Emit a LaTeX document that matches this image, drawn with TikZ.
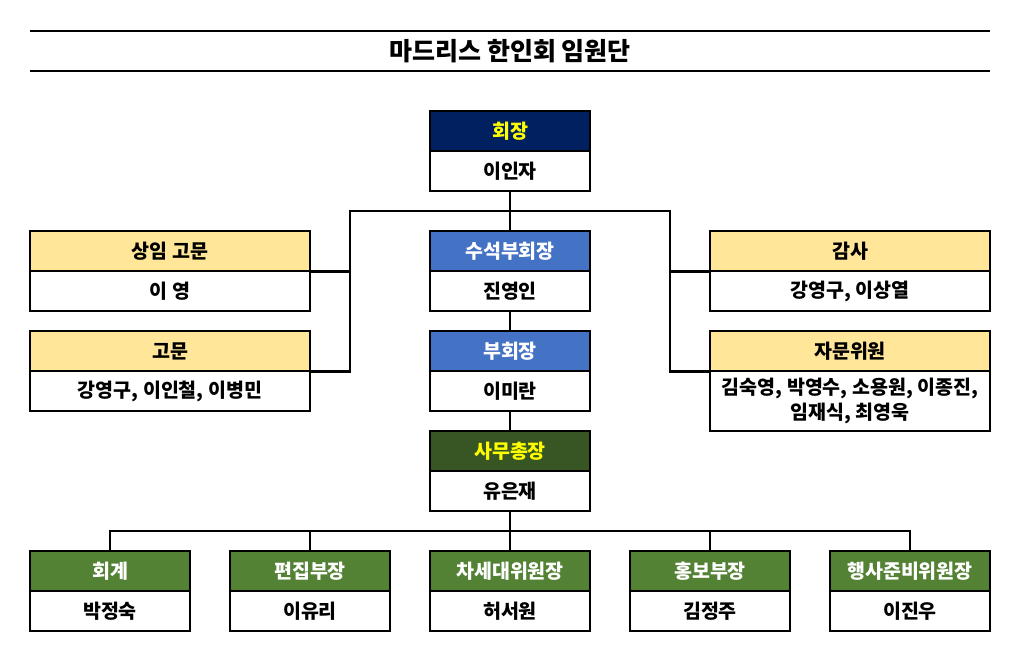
\documentclass[tikz,border=0pt]{standalone}
\usepackage{fontspec}
\setmainfont{Noto Sans CJK KR}
\usetikzlibrary{positioning}
\definecolor{navyhd}{HTML}{002060}
\definecolor{bluehd}{HTML}{4472C4}
\definecolor{darkhd}{HTML}{375623}
\definecolor{greenhd}{HTML}{548235}
\definecolor{goldhd}{HTML}{FFE699}
\definecolor{yellowtx}{HTML}{FFFF00}

\begin{document}
\begin{tikzpicture}[x=1pt, y=-1pt,
  font=\fontsize{19.5}{25}\selectfont\bfseries,
  hd/.style={draw, minimum width=160pt, minimum height=40pt, inner sep=0pt, line width=1.2pt, align=center},
  bd/.style={hd, fill=white},
  wide/.style={minimum width=280pt},
  link/.style={line width=2.4pt},
  rulebar/.style={line width=2.4pt}]
  \useasboundingbox (0,0) rectangle (1025,647);
  % title
  \draw[rulebar] (30,31) -- (990,31);
  \node[font=\fontsize{25}{30}\selectfont\bfseries] (title) at (510,51) {마드리스 한인회 임원단};
  \draw[rulebar] (30,71) -- (990,71);
  % centre column
  \node[hd, fill=navyhd, text=yellowtx] (pres-h) at (510,131) {회장};
  \node[bd] (pres-b) at (510,171) {이인자};
  \node[hd, fill=bluehd, text=white] (svp-h) at (510,251) {수석부회장};
  \node[bd] (svp-b) at (510,291) {진영인};
  \node[hd, fill=bluehd, text=white] (vp-h) at (510,351) {부회장};
  \node[bd] (vp-b) at (510,391) {이미란};
  \node[hd, fill=darkhd, text=yellowtx] (sg-h) at (510,451) {사무총장};
  \node[bd] (sg-b) at (510,491) {유은재};
  % advisers (left)
  \node[hd, wide, fill=goldhd] (adv1-h) at (170,251) {상임 고문};
  \node[bd, wide] (adv1-b) at (170,291) {이 영};
  \node[hd, wide, fill=goldhd] (adv2-h) at (170,351) {고문};
  \node[bd, wide] (adv2-b) at (170,391) {강영구, 이인철, 이병민};
  % audit and council (right)
  \node[hd, wide, fill=goldhd] (aud-h) at (850,251) {감사};
  \node[bd, wide] (aud-b) at (850,291) {강영구, 이상열};
  \node[hd, wide, fill=goldhd] (cnl-h) at (850,351) {자문위원};
  \node[bd, wide, minimum height=60pt] (cnl-b) at (850,401) {김숙영, 박영수, 소용원, 이종진,\\임재식, 최영욱};
  % departments
  \node[hd, fill=greenhd, text=white] (d1-h) at (110,571) {회계};
  \node[bd] (d1-b) at (110,611) {박정숙};
  \node[hd, fill=greenhd, text=white] (d2-h) at (310,571) {편집부장};
  \node[bd] (d2-b) at (310,611) {이유리};
  \node[hd, fill=greenhd, text=white] (d3-h) at (510,571) {차세대위원장};
  \node[bd] (d3-b) at (510,611) {허서원};
  \node[hd, fill=greenhd, text=white] (d4-h) at (710,571) {홍보부장};
  \node[bd] (d4-b) at (710,611) {김정주};
  \node[hd, fill=greenhd, text=white] (d5-h) at (910,571) {행사준비위원장};
  \node[bd] (d5-b) at (910,611) {이진우};
  % connectors
  \coordinate (jl) at (350,211);
  \coordinate (jr) at (670,211);
  \coordinate (bus) at (510,531);
  \draw[link] (pres-b.south) -- (svp-h.north);
  \draw[link] (svp-b.south) -- (vp-h.north);
  \draw[link] (vp-b.south) -- (sg-h.north);
  \draw[link] (adv2-h.south east) -| (jl) -- (jr) |- (cnl-h.south west);
  \draw[link] (adv1-h.south east) -- (adv1-h.south east -| jl);
  \draw[link] (aud-h.south west) -- (aud-h.south west -| jr);
  \draw[link] (sg-b.south) -- (d3-h.north);
  \draw[link] (d1-h.north) |- (bus) -| (d5-h.north);
  \draw[link] (d2-h.north) -- (d2-h.north |- bus);
  \draw[link] (d4-h.north) -- (d4-h.north |- bus);
\end{tikzpicture}
\end{document}
